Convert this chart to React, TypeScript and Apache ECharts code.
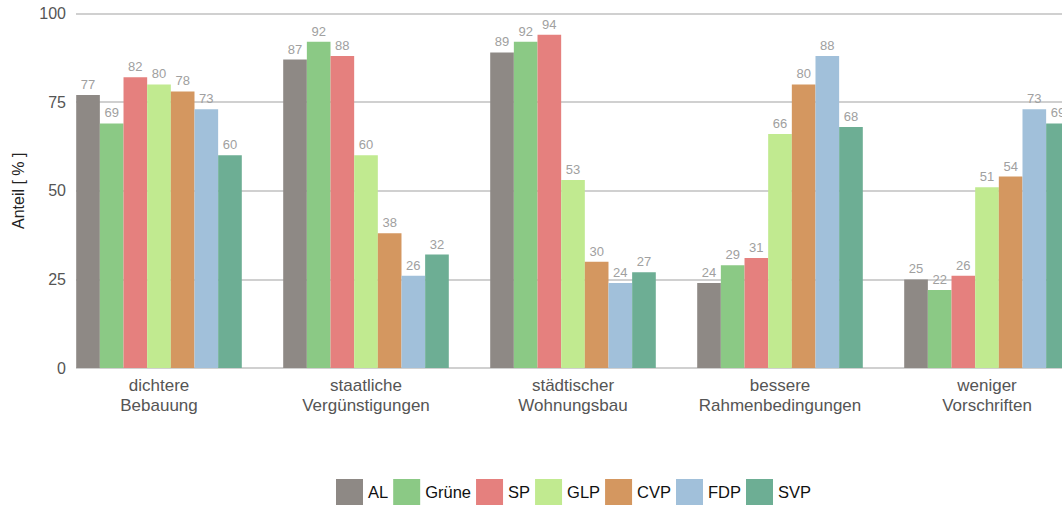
import React, { useEffect, useRef } from "react";
import * as echarts from "echarts";

const categories = [
  "dichtere\nBebauung",
  "staatliche\nVergünstigungen",
  "städtischer\nWohnungsbau",
  "bessere\nRahmenbedingungen",
  "weniger\nVorschriften",
];
const parties = ["AL", "Grüne", "SP", "GLP", "CVP", "FDP", "SVP"];
const colors = ["#8e8985", "#8bc985", "#e5807e", "#c1ea90", "#d49760", "#a1c0da", "#6dae94"];
const valAL = [77, 87, 89, 24, 25];
const valGruene = [69, 92, 92, 29, 22];
const valSP = [82, 88, 94, 31, 26];
const valGLP = [80, 60, 53, 66, 51];
const valCVP = [78, 38, 30, 80, 54];
const valFDP = [73, 26, 24, 88, 73];
const valSVP = [60, 32, 27, 68, 69];
const seriesValues = [valAL, valGruene, valSP, valGLP, valCVP, valFDP, valSVP];
const yTicks = [0, 25, 50, 75, 100];

const FONT = "'Liberation Sans', Arial, sans-serif";
const CHART_W = 1100;

export default function App() {
  const ref = useRef<HTMLDivElement>(null);
  useEffect(() => {
    if (!ref.current) return;
    const chart = echarts.init(ref.current, undefined, { renderer: "svg" });
    const top = 13.5;
    const bottom = 138;
    chart.setOption({
      animation: false,
      textStyle: { fontFamily: FONT },
      grid: [
        { left: 55.5, width: 1035, top, bottom },
        { left: 76, right: CHART_W - 1062, top, bottom },
      ],
      legend: {
        data: parties,
        left: 331,
        top: 474,
        itemWidth: 27,
        itemHeight: 26,
        itemGap: 5,
        icon: "rect",
        textStyle: { fontSize: 16.5, color: "#111", fontFamily: FONT },
      },
      xAxis: [
        {
          type: "category",
          gridIndex: 0,
          data: categories,
          axisLine: { show: false },
          axisTick: { show: false },
          axisLabel: {
            interval: 0,
            fontSize: 17,
            color: "#555",
            lineHeight: 20,
            margin: 7,
            fontFamily: FONT,
          },
        },
        {
          type: "value",
          gridIndex: 1,
          show: false,
          min: 0,
          max: 1,
        },
      ],
      yAxis: [
        {
          type: "value",
          gridIndex: 0,
          min: 0,
          max: 100,
          show: false,
          splitLine: { show: false },
        },
        {
          type: "value",
          gridIndex: 1,
          min: 0,
          max: 100,
          interval: 25,
          name: "Anteil [ % ]",
          nameLocation: "middle",
          nameGap: 50,
          nameTextStyle: { fontSize: 16, color: "#222", fontFamily: FONT },
          axisLine: { show: false },
          axisTick: { show: false },
          axisLabel: {
            fontSize: 16,
            color: "#555",
            margin: 10,
            fontFamily: FONT,
            formatter: (v: number) => (yTicks.includes(v) ? String(v) : ""),
          },
          splitLine: { lineStyle: { color: "#d0d0d0", width: 2 } },
        },
      ],
      series: parties.map((p, i) => ({
        name: p,
        type: "bar",
        xAxisIndex: 0,
        yAxisIndex: 0,
        data: seriesValues[i],
        barGap: "0%",
        barCategoryGap: "20%",
        itemStyle: { color: colors[i] },
        label: {
          show: true,
          position: "top",
          distance: 4,
          fontSize: 13,
          color: "#a0a0a0",
          fontFamily: FONT,
        },
      })),
    });
    return () => chart.dispose();
  }, []);
  return (
    <div
      style={{
        position: "fixed",
        left: 0,
        top: 0,
        width: 1062,
        height: 506,
        overflow: "hidden",
        background: "#fff",
      }}
    >
      <div ref={ref} style={{ width: CHART_W, height: 506 }} />
    </div>
  );
}
